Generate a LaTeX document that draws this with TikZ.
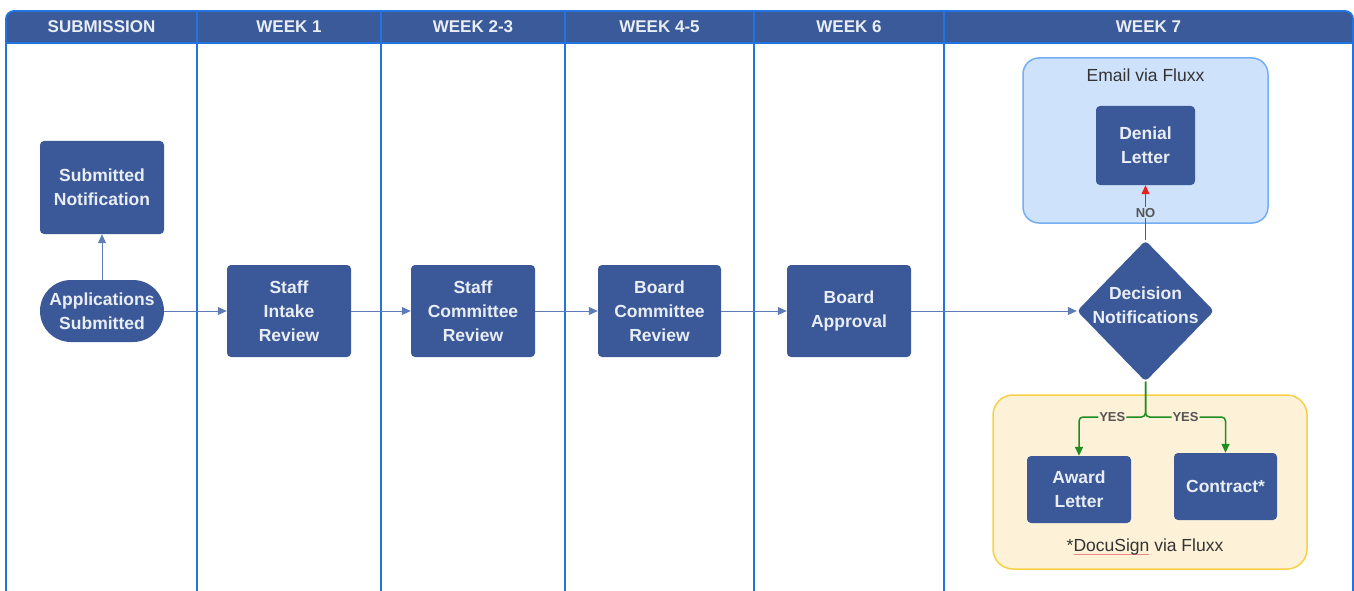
\documentclass[tikz,border=0pt]{standalone}
\usepackage{fontspec}
\setmainfont{Liberation Sans}
\usetikzlibrary{shapes.geometric,arrows.meta}
\definecolor{hdr}{HTML}{3B5A99}
\definecolor{nodefill}{HTML}{3B5998}
\definecolor{lane}{HTML}{2374E1}
\definecolor{conn}{HTML}{5E7DB8}
\definecolor{txtw}{HTML}{E9EDF5}
\definecolor{bluebg}{HTML}{CFE2FB}
\definecolor{blueln}{HTML}{74AEF5}
\definecolor{yelbg}{HTML}{FDF2D7}
\definecolor{yelln}{HTML}{F7D046}
\definecolor{dgray}{HTML}{333333}
\definecolor{lblgray}{HTML}{555555}
\definecolor{nored}{HTML}{E52222}
\definecolor{yesgreen}{HTML}{1E8C1E}
\tikzset{
  box/.style={draw=none, fill=nodefill, rounded corners=4pt, text=txtw, font=\bfseries\fontsize{17.5}{24}\selectfont, align=center, inner sep=0pt},
  hdrtext/.style={text=txtw, font=\bfseries\fontsize{17}{18}\selectfont},
  flow/.style={draw=conn, line width=1pt, -{Triangle[length=9pt,width=8pt]}},
  lbl/.style={font=\bfseries\fontsize{13}{14}\selectfont, text=lblgray, inner sep=1pt},
  cont/.style={line width=1.5pt},
  plain/.style={text=dgray, font=\fontsize{17.5}{20}\selectfont},
}
\begin{document}
\begin{tikzpicture}[x=1pt,y=-1pt]
\useasboundingbox (0,0) rectangle (1354,591);
% header band
\fill[hdr] (6,43) -- (6,19) arc[start angle=180,end angle=270,radius=8] -- (1345,11) arc[start angle=270,end angle=360,radius=8] -- (1353,43) -- cycle;
% lane outline
\draw[lane, line width=1.8pt] (6,591) -- (6,19) arc[start angle=180,end angle=270,radius=8] -- (1345,11) arc[start angle=270,end angle=360,radius=8] -- (1353,591);
\draw[lane, line width=1.8pt] (6,43) -- (1353,43);
\foreach \xx in {197,381,565,754,944} \draw[lane, line width=1.8pt] (\xx,11) -- (\xx,591);
% header texts
\node[hdrtext] (h0) at (101.5,27) {SUBMISSION};
\node[hdrtext] (h1) at (289,27) {WEEK 1};
\node[hdrtext] (h2) at (473,27) {WEEK 2-3};
\node[hdrtext] (h3) at (659.5,27) {WEEK 4-5};
\node[hdrtext] (h4) at (849,27) {WEEK 6};
\node[hdrtext] (h5) at (1148.5,27) {WEEK 7};
% containers
\node[cont, draw=blueln, fill=bluebg, rounded corners=16pt, minimum width=245pt, minimum height=165pt, inner sep=0pt] (emailc) at (1145.5,140.5) {};
\node[plain] (emailt) at (1145.5,75) {Email via Fluxx};
\node[cont, draw=yelln, fill=yelbg, rounded corners=20pt, minimum width=314pt, minimum height=174pt, inner sep=0pt] (yelc) at (1150,482) {};
\node[plain] (docut) at (1145,547) {*\sbox0{DocuSign}\makebox[0pt][l]{\color{nored!55}\rule[-3.5pt]{\wd0}{0.8pt}}\usebox0{} via Fluxx};
% nodes
\node[box, minimum width=124pt, minimum height=93pt] (subn) at (102,187.5) {Submitted\\Notification};
\node[box, rounded corners=31pt, minimum width=124pt, minimum height=62pt] (apps) at (102,311) {Applications\\Submitted};
\node[box, minimum width=124pt, minimum height=92pt] (sir) at (289,311) {Staff\\Intake\\Review};
\node[box, minimum width=124pt, minimum height=92pt] (scr) at (473,311) {Staff\\Committee\\Review};
\node[box, minimum width=123pt, minimum height=92pt] (bcr) at (659.5,311) {Board\\Committee\\Review};
\node[box, minimum width=124pt, minimum height=92pt] (ba) at (849,311) {Board\\Approval};
\node[diamond, fill=nodefill, rounded corners=4pt, minimum width=137pt, minimum height=141pt, inner sep=0pt] (dec) at (1145.5,311) {};
\node[box, fill=none] (dect) at (1145.5,305) {Decision\\Notifications};
\node[box, minimum width=99pt, minimum height=79pt] (den) at (1145.5,145.5) {Denial\\Letter};
\node[box, minimum width=104pt, minimum height=67pt] (award) at (1079,489.5) {Award\\Letter};
\node[box, minimum width=103pt, minimum height=67pt] (contr) at (1225.5,486.5) {Contract*};
% connectors
\draw[flow] (apps.north) -- (subn.south);
\draw[flow] (apps.east) -- (sir.west);
\draw[flow] (sir.east) -- (scr.west);
\draw[flow] (scr.east) -- (bcr.west);
\draw[flow] (bcr.east) -- (ba.west);
\draw[flow] (ba.east) -- (dec.west);
\draw[draw=nored, line width=1.3pt, -{Triangle[length=9pt,width=8pt]}] (dec.north) -- node[lbl, fill=bluebg, pos=0.5] (nolbl) {NO} (den.south);
\coordinate (split) at (1145.5,417);
\draw[draw=yesgreen, line width=1.5pt, rounded corners=4pt, -{Triangle[length=9pt,width=8pt]}] (dec.south) -- (split) -| node[lbl, fill=yelbg, pos=0.25] (yes1) {YES} (award.north);
\draw[draw=yesgreen, line width=1.5pt, rounded corners=4pt, -{Triangle[length=9pt,width=8pt]}] (dec.south) -- (split) -| node[lbl, fill=yelbg, pos=0.25] (yes2) {YES} (contr.north);
\end{tikzpicture}
\end{document}
